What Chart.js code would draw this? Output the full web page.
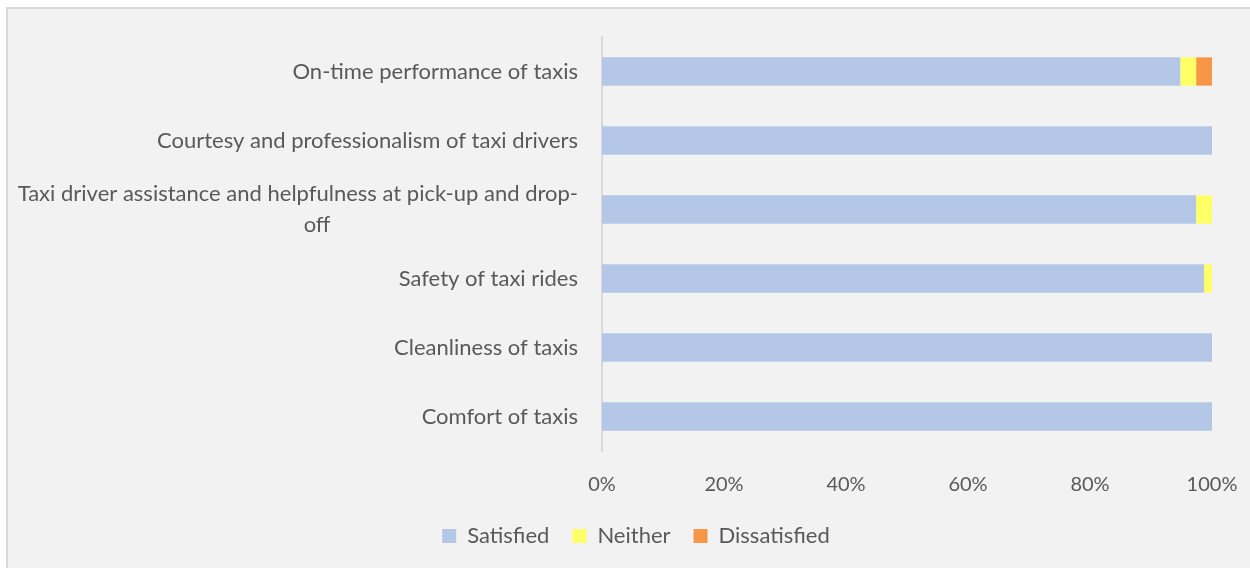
<!DOCTYPE html>
<html>
<head>
<meta charset="utf-8">
<script src="https://cdn.jsdelivr.net/npm/chart.js@4/dist/chart.umd.min.js"></script>
<style>
  html, body { margin: 0; padding: 0; background: #ffffff; overflow: hidden; }
  #frame {
    position: absolute; left: 6px; top: 7px; width: 1270px; height: 600px;
    background: #f2f2f2; border: 2px solid #d9d9d9; box-sizing: border-box;
  }
  #holder { position: absolute; left: 0; top: 0; width: 1250px; height: 568px; }
</style>
</head>
<body>
<div id="frame"></div>
<div id="holder"><canvas id="chart" width="1250" height="568"></canvas></div>
<script>
// Service attributes, listed top to bottom
const categories = [
  "On-time performance of taxis",
  "Courtesy and professionalism of taxi drivers",
  ["Taxi driver assistance and helpfulness at pick-up and drop-",
   "off" + "\u2003".repeat(15)],
  "Safety of taxi rides",
  "Cleanliness of taxis",
  "Comfort of taxis"
];

// Share of respondents (%)
const satisfied    = [94.8, 100, 97.4, 98.7, 100, 100];
const neither      = [2.6,  0,   2.6,  1.3,  0,   0];
const dissatisfied = [2.6,  0,   0,    0,    0,   0];

const xTicks = [0, 20, 40, 60, 80, 100];

const textColor = "#595959";
const fontFamily = "Lato, 'Open Sans', sans-serif";

// Nudges the bottom legend so it sits centred under the whole frame
const legendOffset = {
  id: "legendOffset",
  afterLayout(chart, args, opts) {
    const lg = chart.legend;
    if (lg) { lg.left += opts.dx; lg.right += opts.dx; }
  }
};

new Chart(document.getElementById("chart"), {
  type: "bar",
  data: {
    labels: categories,
    datasets: [
      { label: "Satisfied",    data: satisfied,    backgroundColor: "#b4c7e7" },
      { label: "Neither",      data: neither,      backgroundColor: "#ffff66" },
      { label: "Dissatisfied", data: dissatisfied, backgroundColor: "#f79646" }
    ]
  },
  plugins: [legendOffset],
  options: {
    indexAxis: "y",
    responsive: false,
    animation: false,
    layout: { padding: { top: 37, right: 38, bottom: 11, left: 0 } },
    datasets: { bar: { categoryPercentage: 1, barPercentage: 0.41, borderWidth: 0 } },
    scales: {
      x: {
        stacked: true,
        min: 0, max: 100,
        afterBuildTicks: s => { s.ticks = xTicks.map(v => ({ value: v })); },
        afterFit: s => { s.height = 51; s.paddingLeft = 0; s.paddingRight = 0; },
        grid: { display: false, drawTicks: false },
        border: { display: false },
        ticks: {
          padding: 22,
          color: textColor,
          font: { family: fontFamily, size: 20 },
          callback: v => v + "%"
        }
      },
      y: {
        stacked: true,
        grid: { display: false, drawTicks: false },
        border: { display: true, color: "#d9d9d9", width: 2 },
        afterFit: s => { s.width = 602; s.paddingTop = 0; s.paddingBottom = 0; },
        ticks: {
          padding: 24,
          color: textColor,
          font: { family: fontFamily, size: 22, lineHeight: 1.38 }
        }
      }
    },
    plugins: {
      tooltip: { enabled: false },
      legendOffset: { dx: 30 },
      legend: {
        position: "bottom",
        labels: {
          boxWidth: 14, boxHeight: 14, padding: 23,
          color: textColor,
          font: { family: fontFamily, size: 22 }
        }
      }
    }
  }
});
</script>
</body>
</html>
